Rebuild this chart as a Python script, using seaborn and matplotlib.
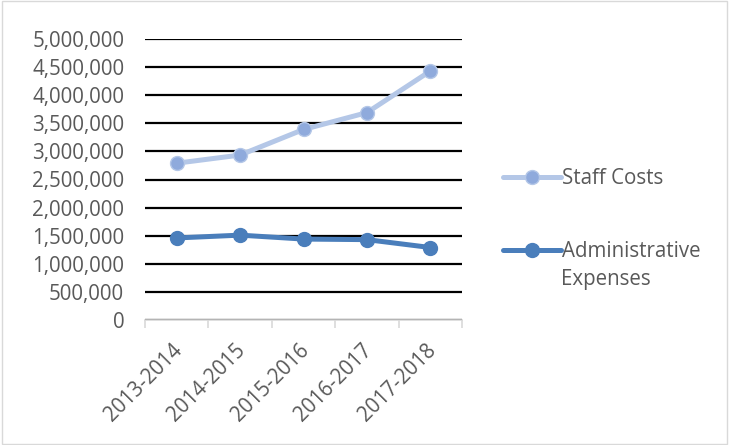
import matplotlib
matplotlib.use("Agg")
import matplotlib.pyplot as plt
import matplotlib.ticker as mticker
from matplotlib.patches import Rectangle
from matplotlib.lines import Line2D
import seaborn as sns
import pandas as pd

years = ["2013-2014", "2014-2015", "2015-2016", "2016-2017", "2017-2018"]
staff_costs = [2790000, 2935000, 3390000, 3690000, 4430000]
admin_expenses = [1460000, 1510000, 1440000, 1430000, 1290000]
series_names = ["Staff Costs", "Administrative Expenses"]

df = pd.DataFrame({
    "Year": years * 2,
    "Value": staff_costs + admin_expenses,
    "Series": [series_names[0]] * len(years) + [series_names[1]] * len(years),
})
df["x"] = list(range(len(years))) * 2

sns.set_theme(style="white")
plt.rcParams["font.family"] = ["Open Sans", "DejaVu Sans"]

FS = 14.8
text_color = "#595959"
line_colors = {"Staff Costs": "#B4C7E7", "Administrative Expenses": "#4A7EBB"}
marker_colors = {"Staff Costs": "#8FAADC", "Administrative Expenses": "#4A7EBB"}

fig = plt.figure(figsize=(7.29, 4.45), dpi=100)
ax = fig.add_axes([145 / 729, 1 - 320 / 445, (462 - 145) / 729, (320 - 39) / 445])

sns.lineplot(data=df, x="x", y="Value", hue="Series", palette=line_colors,
             linewidth=3.6, ax=ax, legend=False, sort=False)
for name in series_names:
    sub = df[df["Series"] == name]
    ax.plot(sub["x"], sub["Value"], linestyle="none", marker="o", markersize=10,
            markerfacecolor=marker_colors[name], markeredgecolor=line_colors[name],
            markeredgewidth=1.0)

ax.set_xlim(-0.5, len(years) - 0.5)
ax.set_ylim(0, 5000000)
ax.yaxis.set_major_locator(mticker.MultipleLocator(500000))
ax.yaxis.set_major_formatter(mticker.FuncFormatter(lambda v, p: f"{int(v):,}"))
ax.grid(axis="y", color="black", linewidth=1.6)
ax.grid(axis="x", visible=False)
for s in ["top", "right", "left"]:
    ax.spines[s].set_visible(False)
ax.spines["bottom"].set_color("#D9D9D9")
ax.spines["bottom"].set_linewidth(1.2)

ax.set_xticks(range(len(years)))
ax.set_xticklabels(years, rotation=45, ha="right", rotation_mode="anchor")
ax.set_xticks([i - 0.5 for i in range(len(years) + 1)], minor=True)
ax.tick_params(axis="x", which="major", length=0, pad=14, labelsize=FS, labelcolor=text_color)
ax.tick_params(axis="x", which="minor", length=6, width=1.2, color="#D9D9D9", direction="out", bottom=True)
ax.tick_params(axis="y", length=0, pad=15, labelsize=FS, labelcolor=text_color)
for lbl in ax.get_xticklabels():
    lbl.set_transform(lbl.get_transform() + matplotlib.transforms.ScaledTranslation(-0.05, 0, fig.dpi_scale_trans))
ax.set_xlabel("")
ax.set_ylabel("")

# legend
handles = [Line2D([], [], color=line_colors[n], linewidth=3.6, marker="o", markersize=10,
                  markerfacecolor=marker_colors[n], markeredgecolor=line_colors[n]) for n in series_names]
leg = fig.legend(handles, ["Staff Costs", "Administrative"], loc="upper left",
                 bbox_to_anchor=(487 / 729, 1 - 152 / 445), frameon=False,
                 fontsize=FS, labelcolor=text_color, handlelength=2.8,
                 handletextpad=0.05, labelspacing=2.5, borderpad=0.3)
fig.text(561 / 729, 1 - 280 / 445, "Expenses", fontsize=FS, color=text_color, va="center", ha="left")

fig.patches.append(Rectangle((0.003, 0.003), 0.994, 0.994, transform=fig.transFigure,
                             fill=False, edgecolor="#D9D9D9", linewidth=1))

fig.savefig("out.png", dpi=100)
